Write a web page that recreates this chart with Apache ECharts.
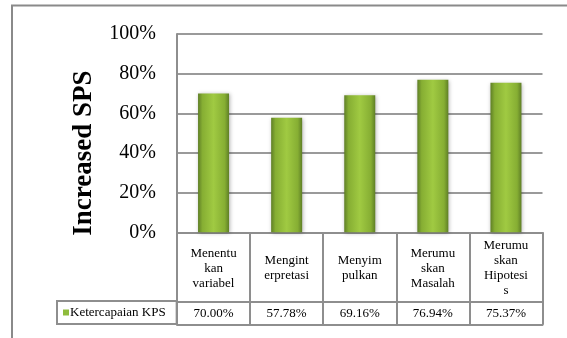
<!DOCTYPE html>
<html>
<head>
<meta charset="utf-8">
<script src="https://cdn.jsdelivr.net/npm/echarts@6/dist/echarts.min.js"></script>
<style>
html,body{margin:0;padding:0;background:#fff;}
#chart{width:567px;height:338px;}
</style>
</head>
<body>
<div id="chart"></div>
<script>
var categories = ['Menentu\nkan\nvariabel', 'Mengint\nerpretasi', 'Menyim\npulkan', 'Merumu\nskan\nMasalah', 'Merumu\nskan\nHipotesi\ns'];
var seriesName = 'Ketercapaian KPS';
var values = [0.7000, 0.5778, 0.6916, 0.7694, 0.7537];
var yTicks = [0, 0.2, 0.4, 0.6, 0.8, 1.0];
var yTitle = 'Increased SPS';

var FONT = "Liberation Serif";
var LINE = '#8e8e8e';
var valueLabels = values.map(function (v) { return (v * 100).toFixed(2) + '%'; });
var legendText = {fontFamily: FONT, fontSize: 13, color: '#000', lineHeight: 15, padding: [0, 0, 0, -4]};

var chart = echarts.init(document.getElementById('chart'), null, {renderer: 'canvas'});
var option = {
  animation: false,
  backgroundColor: '#fff',
  textStyle: {fontFamily: FONT},
  graphic: [{
    type: 'rect', silent: true, z: 0,
    shape: {x: 12, y: 5.5, width: 700, height: 500},
    style: {fill: 'none', stroke: '#8a8a8a', lineWidth: 2}
  }],
  legend: {
    show: true,
    left: 57, top: 301,
    orient: 'horizontal',
    padding: [4, 11, 4, 6],
    borderColor: LINE, borderWidth: 2,
    itemWidth: 6, itemHeight: 6,
    icon: 'rect',
    data: [{name: seriesName, itemStyle: {color: '#8fbc3c'}, textStyle: legendText}],
    textStyle: legendText
  },
  grid: {left: 177, right: 24.5, top: 34, bottom: 105.7, containLabel: false},
  xAxis: [{
    type: 'category',
    data: categories,
    position: 'bottom',
    axisLine: {show: true, lineStyle: {color: LINE, width: 2}},
    axisTick: {show: true, alignWithLabel: false, interval: 0, length: 92.5, lineStyle: {color: LINE, width: 2}},
    axisLabel: {interval: 0, fontFamily: FONT, fontSize: 13, lineHeight: 15, color: '#000', verticalAlign: 'middle', margin: 36, hideOverlap: false},
    splitLine: {show: false}
  }, {
    type: 'category',
    data: valueLabels,
    position: 'bottom',
    offset: 69,
    axisLine: {show: true, lineStyle: {color: LINE, width: 2}},
    axisTick: {show: false},
    axisLabel: {interval: 0, fontFamily: FONT, fontSize: 13, color: '#000', verticalAlign: 'middle', margin: 12}
  }, {
    type: 'category',
    data: valueLabels,
    position: 'bottom',
    offset: 92.5,
    axisLine: {show: true, lineStyle: {color: LINE, width: 2}},
    axisTick: {show: false},
    axisLabel: {show: false}
  }],
  yAxis: {
    type: 'value',
    min: 0, max: 1, interval: 0.2,
    axisLine: {show: true, lineStyle: {color: LINE, width: 2}},
    axisTick: {show: false},
    axisLabel: {
      fontFamily: FONT, fontSize: 20, color: '#000', margin: 21,
      formatter: function (v) { return Math.round(v * 100) + '%'; }
    },
    splitLine: {show: true, lineStyle: {color: '#9a9a9a', width: 2}},
    name: yTitle,
    nameLocation: 'middle',
    nameRotate: 90,
    nameGap: 79,
    nameTextStyle: {fontFamily: FONT, fontSize: 27, fontWeight: 'bold', color: '#000', padding: [0, 40, 0, 0]}
  },
  series: [{
    name: seriesName,
    type: 'bar',
    xAxisIndex: 0,
    data: values,
    barWidth: 31,
    itemStyle: {
      color: new echarts.graphic.LinearGradient(0, 0, 1, 0, [
        {offset: 0, color: '#5f7f26'},
        {offset: 0.14, color: '#86ae33'},
        {offset: 0.5, color: '#a0ca42'},
        {offset: 0.86, color: '#86ae33'},
        {offset: 1, color: '#5f7f26'}
      ]),
      shadowColor: 'rgba(0,0,0,0.3)', shadowBlur: 4, shadowOffsetX: 1, shadowOffsetY: 1
    }
  }]
};
chart.setOption(option);
</script>
</body>
</html>
